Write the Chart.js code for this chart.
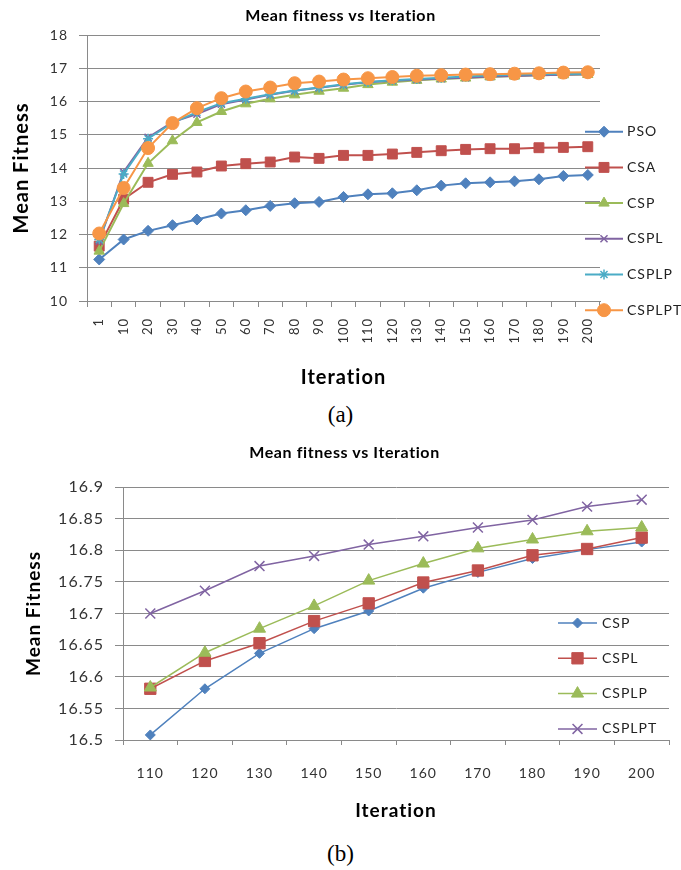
<!DOCTYPE html>
<html><head><meta charset="utf-8">
<script src="https://cdn.jsdelivr.net/npm/chart.js@4.4.1/dist/chart.umd.min.js"></script>
<style>
html,body{margin:0;padding:0;background:#fff;width:681px;height:870px;overflow:hidden;position:relative}
.wrap{position:absolute;left:0;width:681px}
#wa{top:0;height:395px}
#wb{top:430px;height:400px}
.cap{position:absolute;left:0;width:681px;text-align:center;font-family:"Liberation Serif","DejaVu Serif",serif;font-size:23px;line-height:1;color:#000}
.ttl{position:absolute;left:0;width:681px;text-align:center;font-family:Lato,"Open Sans",sans-serif;font-weight:bold;font-size:16px;letter-spacing:0.6px;line-height:20px;color:#000}
</style></head><body>
<div class="wrap" id="wa"><canvas id="ca"></canvas></div>
<div class="ttl" style="top:5px;left:0px">Mean fitness vs Iteration</div>
<div class="cap" style="top:403px">(a)</div>
<div class="wrap" id="wb"><canvas id="cb"></canvas></div>
<div class="ttl" style="top:442px;left:4px">Mean fitness vs Iteration</div>
<div class="cap" style="top:842px">(b)</div>
<script>
// ---- data (a) ----
const iterA = ['1','10','20','30','40','50','60','70','80','90','100','110','120','130','140','150','160','170','180','190','200'];
const psoA    = [11.25,11.85,12.11,12.28,12.45,12.63,12.73,12.86,12.94,12.98,13.13,13.21,13.24,13.33,13.47,13.54,13.57,13.60,13.66,13.76,13.79];
const csaA    = [11.65,13.06,13.57,13.81,13.88,14.06,14.13,14.18,14.33,14.29,14.38,14.38,14.42,14.47,14.52,14.56,14.58,14.58,14.61,14.62,14.64];
const cspA    = [11.50,12.93,14.14,14.82,15.37,15.70,15.93,16.08,16.20,16.31,16.40,16.508,16.581,16.637,16.676,16.704,16.740,16.765,16.787,16.801,16.813];
const csplA   = [11.80,13.88,14.92,15.38,15.62,15.92,16.06,16.20,16.32,16.41,16.50,16.581,16.625,16.653,16.688,16.716,16.749,16.768,16.792,16.802,16.820];
const csplpA  = [11.85,13.82,14.88,15.36,15.68,15.95,16.08,16.22,16.33,16.42,16.52,16.583,16.638,16.676,16.712,16.752,16.779,16.803,16.817,16.830,16.836];
const csplptA = [12.03,13.40,14.60,15.35,15.80,16.10,16.30,16.42,16.55,16.60,16.66,16.700,16.736,16.775,16.791,16.809,16.822,16.836,16.848,16.869,16.880];
// ---- data (b) ----
const iterB = ['110','120','130','140','150','160','170','180','190','200'];
const cspB    = [16.508,16.581,16.637,16.676,16.704,16.740,16.765,16.787,16.801,16.813];
const csplB   = [16.581,16.625,16.653,16.688,16.716,16.749,16.768,16.792,16.802,16.820];
const csplpB  = [16.583,16.638,16.676,16.712,16.752,16.779,16.803,16.817,16.830,16.836];
const csplptB = [16.700,16.736,16.775,16.791,16.809,16.822,16.836,16.848,16.869,16.880];

const BLUE='#4F81BD', RED='#C0504D', GREEN='#9BBB59', PURPLE='#8064A2', CYAN='#4BACC6', ORANGE='#F79646';
const GRID='#8a8a8a';
const FAM='Lato, "Open Sans", sans-serif';

Chart.defaults.font.family = FAM;
Chart.defaults.color = '#333';

function mk(label, data, color, style, r, lw, n, i){
  const stroked = (style==='crossRot'||style==='star');
  return {label, data, borderColor:color, backgroundColor:color, borderWidth:lw,
    pointStyle:style, pointRadius:r, pointHoverRadius:r,
    pointBackgroundColor:color, pointBorderColor:color, pointBorderWidth: stroked?1.5:1,
    tension:0, fill:false, order:n-i};
}

const spacing = {
  id:'spacing',
  beforeUpdate(chart){ chart.ctx.letterSpacing = '1px'; },
  beforeDraw(chart){ chart.ctx.letterSpacing = '1px'; }
};

const customLegend = {
  id:'customLegend',
  afterDraw(chart, args, o){
    const ctx = chart.ctx;
    ctx.save();
    chart.data.datasets.forEach((ds,i)=>{
      const y = o.y + i*o.dy;
      ctx.strokeStyle = ds.borderColor; ctx.lineWidth = ds.borderWidth;
      ctx.beginPath(); ctx.moveTo(o.x, y); ctx.lineTo(o.x+o.len, y); ctx.stroke();
      ctx.fillStyle = ds.pointBackgroundColor; ctx.strokeStyle = ds.pointBorderColor; ctx.lineWidth = ds.pointBorderWidth;
      Chart.helpers.drawPoint(ctx, {pointStyle:ds.pointStyle, radius:ds.pointRadius, rotation:0, borderWidth:ds.pointBorderWidth}, o.x+o.len/2, y);
      ctx.fillStyle = '#222'; ctx.font = o.font; ctx.textBaseline='middle'; ctx.textAlign='left';
      ctx.fillText(ds.label, o.x+o.len+o.gap, y);
    });
    ctx.restore();
  }
};

function fmt(v){ return String(Number(Number(v).toFixed(2))); }

new Chart(document.getElementById('ca'), {
  type:'line',
  data:{labels:iterA, datasets:[
    mk('PSO',psoA,BLUE,'rectRot',5.5,2,6,0),
    mk('CSA',csaA,RED,'rect',7,2,6,1),
    mk('CSP',cspA,GREEN,'triangle',6,2,6,2),
    mk('CSPL',csplA,PURPLE,'crossRot',5,2,6,3),
    mk('CSPLP',csplpA,CYAN,'star',5,2,6,4),
    mk('CSPLPT',csplptA,ORANGE,'circle',6.5,2,6,5)
  ]},
  plugins:[spacing, customLegend],
  options:{
    animation:false, responsive:true, maintainAspectRatio:false,
    layout:{padding:{left:0,right:81,top:35,bottom:0}},
    plugins:{
      legend:{display:false}, tooltip:{enabled:false}, title:{display:false},
      customLegend:{x:585,y:131.7,dy:35.7,len:38,gap:4,font:'14px '+FAM}
    },
    scales:{
      x:{offset:true,
         grid:{offset:true,drawOnChartArea:false,drawTicks:true,tickLength:6,color:GRID},
         border:{color:GRID},
         ticks:{autoSkip:false,minRotation:90,maxRotation:90,padding:11,color:'#333',font:{size:13}},
         title:{display:true,text:'Iteration',color:'#000',font:{size:20,weight:'bold'},padding:{top:0,bottom:5}},
         afterFit:s=>{s.height=94;}},
      y:{min:10,max:18,
         grid:{color:GRID,tickLength:8},
         border:{color:GRID},
         ticks:{stepSize:1,padding:11,color:'#333',font:{size:14},callback:v=>fmt(v)},
         title:{display:true,text:'Mean Fitness',color:'#000',font:{size:20,weight:'bold'},padding:{top:10,bottom:0}},
         afterFit:s=>{s.width=87;}}
    }
  }
});

new Chart(document.getElementById('cb'), {
  type:'line',
  data:{labels:iterB, datasets:[
    mk('CSP',cspB,BLUE,'rectRot',5,1.5,4,0),
    mk('CSPL',csplB,RED,'rect',8,1.5,4,1),
    mk('CSPLP',csplpB,GREEN,'triangle',7,1.5,4,2),
    mk('CSPLPT',csplptB,PURPLE,'crossRot',7,1.5,4,3)
  ]},
  plugins:[spacing, customLegend],
  options:{
    animation:false, responsive:true, maintainAspectRatio:false,
    layout:{padding:{left:0,right:12,top:57,bottom:0}},
    plugins:{
      legend:{display:false}, tooltip:{enabled:false}, title:{display:false},
      customLegend:{x:558,y:193,dy:35.3,len:39,gap:5,font:'14px '+FAM}
    },
    scales:{
      x:{offset:true,
         grid:{offset:true,drawOnChartArea:false,drawTicks:true,tickLength:5,color:GRID},
         border:{color:GRID},
         ticks:{autoSkip:false,maxRotation:0,padding:20,color:'#333',font:{size:14}},
         title:{display:true,text:'Iteration',color:'#000',font:{size:19,weight:'bold'},padding:{top:0,bottom:8}},
         afterFit:s=>{s.height=90;}},
      y:{min:16.5,max:16.9,
         grid:{color:GRID,tickLength:8},
         border:{color:GRID},
         ticks:{stepSize:0.05,padding:11,color:'#333',font:{size:16},callback:v=>fmt(v)},
         title:{display:true,text:'Mean Fitness',color:'#000',font:{size:19,weight:'bold'},padding:{top:22,bottom:0}},
         afterFit:s=>{s.width=123;}}
    }
  }
});
</script>
</body></html>
